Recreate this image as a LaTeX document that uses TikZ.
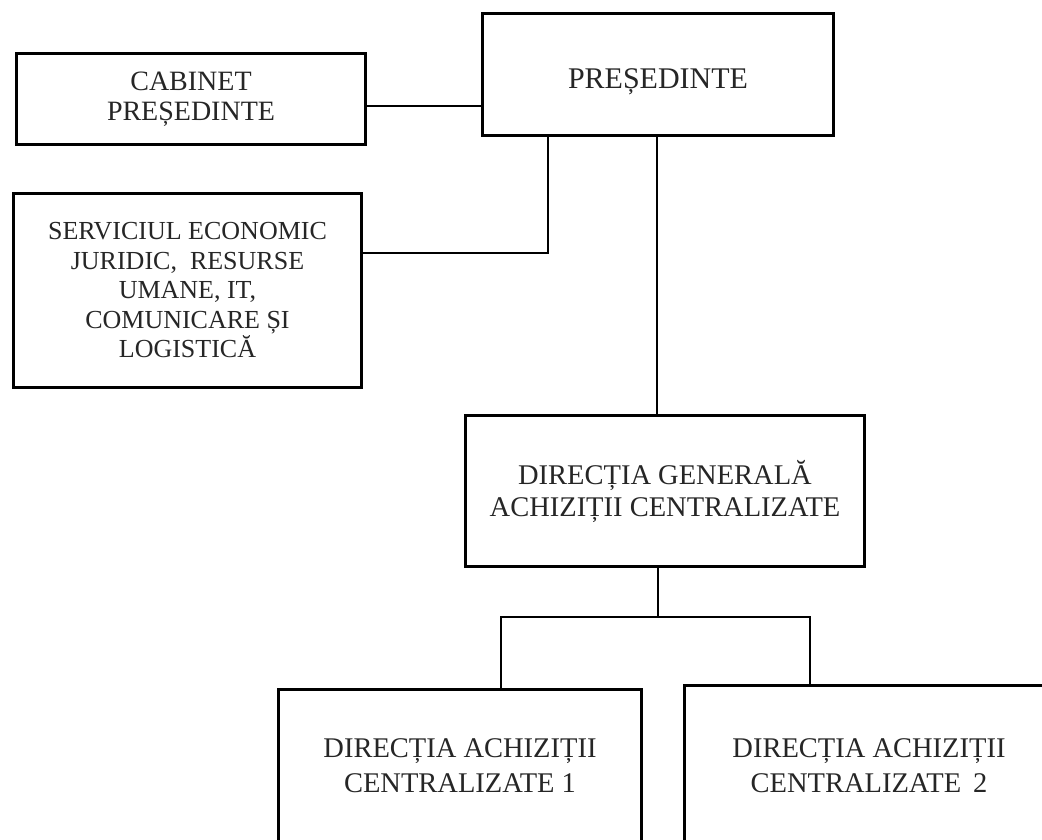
\documentclass[tikz,border=0pt]{standalone}
\usepackage{fontspec}
\setmainfont{Liberation Serif}
\tikzset{
  orgbox/.style={draw=black, line width=2.7pt, rectangle, align=center, inner sep=0pt, text=black!85},
  conn/.style={draw=black, line width=2.8pt, line cap=rect},
}
\begin{document}
\begin{tikzpicture}[x=1pt, y=-1pt]
\useasboundingbox (0,0) rectangle (1042,839);
\clip (0,0) rectangle (1042,839);
\fill[white] (0,0) rectangle (1042,839);

\node[orgbox, minimum width=351pt, minimum height=122pt, text height=27pt, text depth=0pt, font=\fontsize{30}{32}\selectfont] (pres) at (658,74.5) {PREȘEDINTE};
\node[orgbox, minimum width=349pt, minimum height=91pt, font=\fontsize{28}{30}\selectfont] (cab) at (191,99) {CABINET\\PREȘEDINTE};
\node[orgbox, minimum width=348pt, minimum height=194pt, font=\fontsize{26}{29.5}\selectfont] (serv) at (187.5,290.5) {SERVICIUL ECONOMIC\\JURIDIC, \ RESURSE\\UMANE, IT,\\COMUNICARE ȘI\\LOGISTICĂ};
\node[orgbox, minimum width=399pt, minimum height=151pt, font=\fontsize{28.5}{32}\selectfont] (dg) at (665,491) {DIRECȚIA GENERALĂ\\ACHIZIȚII CENTRALIZATE};
\node[orgbox, minimum width=363pt, minimum height=153pt, font=\fontsize{28.5}{35}\selectfont] (d1) at (460,766) {DIRECȚIA ACHIZIȚII\\CENTRALIZATE 1};
\node[orgbox, minimum width=369pt, minimum height=161pt, font=\fontsize{28.5}{35}\selectfont] (d2) at (869,766) {DIRECȚIA ACHIZIȚII\\CENTRALIZATE \,2};

\coordinate (c1) at (0,106);
\coordinate (c2) at (548,253);
\coordinate (c3) at (657,0);
\coordinate (j) at (658,617);
\coordinate (jl) at (501,617);
\coordinate (jr) at (810,617);

\draw[conn] (cab.east |- c1) -- (pres.west |- c1);
\draw[conn] (pres.south -| c2) -- (c2) -- (serv.east |- c2);
\draw[conn] (pres.south -| c3) -- (dg.north -| c3);
\draw[conn] (dg.south -| j) -- (j);
\draw[conn] (d1.north -| jl) -- (jl) -- (jr) -- (d2.north -| jr);
\end{tikzpicture}
\end{document}
